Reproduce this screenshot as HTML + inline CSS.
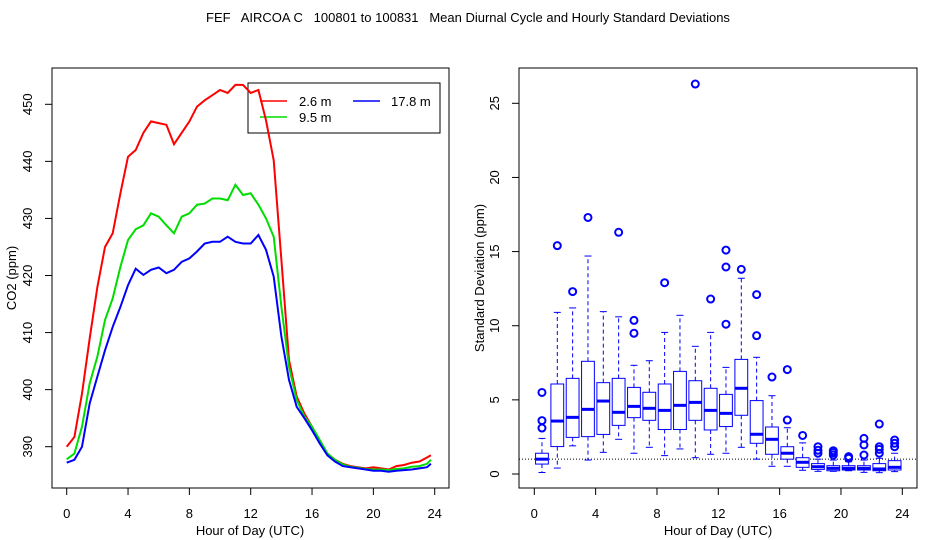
<!DOCTYPE html>
<html><head><meta charset="utf-8"><style>
html,body{margin:0;padding:0;background:#fff;}
svg{display:block;font-family:"Liberation Sans",sans-serif;}
</style></head><body>
<svg id="chart" width="936" height="540" viewBox="0 0 936 540" xmlns="http://www.w3.org/2000/svg">
<rect width="936" height="540" fill="#fff"/>
<text x="468" y="22" font-size="13" text-anchor="middle" xml:space="preserve" style="white-space:pre">FEF   AIRCOA C   100801 to 100831   Mean Diurnal Cycle and Hourly Standard Deviations</text>
<g id="left"></g>
<g id="right"></g>
</svg>
<script>
// ---- Left chart data ----
const hours = [0,0.5,1,1.5,2,2.5,3,3.5,4,4.5,5,5.5,6,6.5,7,7.5,8,8.5,9,9.5,10,10.5,11,11.5,12,12.5,13,13.5,14,14.5,15,15.5,16,16.5,17,17.5,18,18.5,19,19.5,20,20.5,21,21.5,22,22.5,23,23.5,23.75];
const co2_26 = [390,391.7,399.3,409,418,425,427.4,434.4,440.8,442,445,447,446.7,446.4,443,445,447,449.6,450.7,451.6,452.5,452,453.4,453.4,452,452.5,447.2,440.2,422.7,405.2,398.8,395.8,393.5,390.6,388.8,387.7,387,386.6,386.4,386.2,386.4,386.2,386,386.6,386.8,387.2,387.4,388.1,388.5];
const co2_95 = [387.8,388.8,393.5,401.1,405.8,412.2,416,421.5,426.2,428.1,428.8,430.9,430.3,428.8,427.4,430.3,430.9,432.4,432.6,433.5,433.5,433.2,435.9,434.1,434.4,432.4,430,426.8,414.5,404,398.2,395.3,393.5,391.2,388.8,387.7,386.9,386.5,386.3,386.1,386,386,385.9,386.1,386.2,386.5,386.6,387,387.7];
const co2_178 = [387.2,387.7,390,397.6,402.3,406.9,411,414.5,418.3,421.2,420.1,421,421.4,420.4,421,422.4,423,424.2,425.6,425.9,425.9,426.8,425.9,425.6,425.6,427.1,424.5,419.8,409.3,401.7,397,395,392.9,390.6,388.5,387.4,386.6,386.4,386.2,386,385.8,385.8,385.6,385.8,385.9,386,386.2,386.4,387];
const xTicks = [0,4,8,12,16,20,24];
const yTicksL = [390,400,410,420,430,440,450];
// ---- Right chart data (per hour box stats) ----
const bxLo  = [0.1,0.4,1.9,0.94,1.46,2.34,1.4,1.8,1.24,1.69,1.1,1.33,1.4,1.8,1.0,0.52,0.52,0.25,0.18,0.18,0.22,0.11,0.09,0.16];
const bxQ1  = [0.67,1.85,2.47,2.52,2.67,3.28,3.8,3.62,3.0,3.0,3.62,2.97,3.2,3.96,2.07,1.33,1.0,0.45,0.31,0.22,0.27,0.27,0.22,0.27];
const bxMed = [1.0,3.57,3.82,4.36,4.92,4.16,4.56,4.43,4.29,4.63,4.83,4.29,4.09,5.78,2.68,2.34,1.4,0.79,0.49,0.38,0.38,0.38,0.34,0.45];
const bxQ3  = [1.4,6.07,6.45,7.6,6.16,6.45,5.84,5.51,6.07,6.92,6.29,5.78,5.37,7.73,4.95,3.17,1.84,1.1,0.7,0.56,0.56,0.56,0.7,0.9];
const bxHi  = [2.4,10.9,11.2,14.7,10.95,10.6,7.33,7.64,9.55,10.7,8.61,9.55,7.19,13.2,7.87,5.28,3.12,2.1,1.0,0.94,0.83,0.94,1.06,1.4];
const bxOut = [[3.1,3.6,5.5],[15.4],[12.3],[17.3],[],[16.3],[9.49,10.36],[],[12.9],[],[26.3],[11.8],[10.1,13.96,15.1],[13.8],[9.33,12.1],[6.54],[3.64,7.04],[2.6],[1.4,1.6,1.84],[1.28,1.44,1.57],[1.06,1.17],[1.28,1.96,2.4],[1.4,1.66,1.84,3.37],[1.84,2.07,2.29]];
const yTicksR = [0,5,10,15,20,25];
const refLine = 1.0;

const NS="http://www.w3.org/2000/svg";
function mk(parent,tag,attrs,text){const e=document.createElementNS(NS,tag);for(const k in attrs)e.setAttribute(k,attrs[k]);if(text!==undefined)e.textContent=text;parent.appendChild(e);return e;}

// ---------- LEFT ----------
const L=document.getElementById('left');
const lx=h=>66.7+h*(434.7-66.7)/24;
const ly=v=>446.7-(v-390)*(446.7-104.3)/60;
let el=mk(L,'rect',{x:52,y:68,width:397,height:420,fill:'none',stroke:'#000','stroke-width':1});


xTicks.forEach(t=>{
  const x=lx(t);
  let tk=mk(L,'line',{x1:x,y1:488,x2:x,y2:495,stroke:'#000'});
  
  
  let tl=mk(L,'text',{x:x,y:518,'font-size':13,'text-anchor':'middle'},String(t));
  
  
});
yTicksL.forEach(t=>{
  const y=ly(t);
  let tk=mk(L,'line',{x1:45,y1:y,x2:52,y2:y,stroke:'#000'});
  
  
  let tl=mk(L,'text',{x:0,y:0,'font-size':13,'text-anchor':'middle',transform:`translate(32,${y}) rotate(-90)`},String(t));
  
  
});
el=mk(L,'text',{x:250,y:535,'font-size':13,'text-anchor':'middle'},'Hour of Day (UTC)');


el=mk(L,'text',{x:0,y:0,'font-size':13,'text-anchor':'middle',transform:'translate(16,278) rotate(-90)'},'CO2 (ppm)');


// legend (transparent)
const lg=mk(L,'g',{});


mk(lg,'rect',{x:248,y:83,width:192,height:50,fill:'none',stroke:'#000'});
[['2.6 m','#ff0000',260,101,299],['9.5 m','#00dd00',260,117,299],['17.8 m','#0000ff',353,101,391]].forEach(e=>{
  const g=mk(lg,'g',{});
  
  
  mk(g,'line',{x1:e[2],y1:e[3],x2:e[2]+27,y2:e[3],stroke:e[1],'stroke-width':1.5});
  mk(g,'text',{x:e[4],y:e[3]+5,'font-size':13},e[0]);
});
function series(arr,color,name){
  const d=arr.map((v,i)=>(i?'L':'M')+lx(hours[i]).toFixed(1)+','+ly(v).toFixed(1)).join(' ');
  const p=mk(L,'path',{d:d,fill:'none',stroke:color,'stroke-width':2});
  
  
}
series(co2_26,'#ff0000','series-2-6m');
series(co2_95,'#00dd00','series-9-5m');
series(co2_178,'#0000ff','series-17-8m');

// ---------- RIGHT ----------
const R=document.getElementById('right');
const rx=h=>534.3+h*(902.3-534.3)/24;
const ry=v=>474-v*(474-103.3)/25;
el=mk(R,'rect',{x:519,y:68,width:398,height:420,fill:'none',stroke:'#000'});


xTicks.forEach(t=>{
  const x=rx(t);
  let tk=mk(R,'line',{x1:x,y1:488,x2:x,y2:495,stroke:'#000'});
  
  
  let tl=mk(R,'text',{x:x,y:518,'font-size':13,'text-anchor':'middle'},String(t));
  
  
});
yTicksR.forEach(t=>{
  const y=ry(t);
  let tk=mk(R,'line',{x1:512,y1:y,x2:519,y2:y,stroke:'#000'});
  
  
  let tl=mk(R,'text',{x:0,y:0,'font-size':13,'text-anchor':'middle',transform:`translate(499,${y}) rotate(-90)`},String(t));
  
  
});
el=mk(R,'text',{x:718,y:535,'font-size':13,'text-anchor':'middle'},'Hour of Day (UTC)');


el=mk(R,'text',{x:0,y:0,'font-size':13,'text-anchor':'middle',transform:'translate(484,278) rotate(-90)'},'Standard Deviation (ppm)');


el=mk(R,'line',{x1:519,y1:ry(refLine),x2:917,y2:ry(refLine),stroke:'#000','stroke-dasharray':'1,2'});


const bw=6.4;
bxMed.forEach((m,i)=>{
  const cx=rx(i+0.5);
  const g=mk(R,'g',{stroke:'#0000ff',fill:'none'});
  
  
  mk(g,'line',{x1:cx,y1:ry(bxQ3[i]),x2:cx,y2:ry(bxHi[i]),'stroke-dasharray':'4,3'});
  mk(g,'line',{x1:cx,y1:ry(bxQ1[i]),x2:cx,y2:ry(bxLo[i]),'stroke-dasharray':'4,3'});
  mk(g,'line',{x1:cx-3.5,y1:ry(bxHi[i]),x2:cx+3.5,y2:ry(bxHi[i])});
  mk(g,'line',{x1:cx-3.5,y1:ry(bxLo[i]),x2:cx+3.5,y2:ry(bxLo[i])});
  mk(g,'rect',{x:cx-bw,y:ry(bxQ3[i]),width:2*bw,height:ry(bxQ1[i])-ry(bxQ3[i]),fill:'#fff'});
  mk(g,'line',{x1:cx-bw,y1:ry(m),x2:cx+bw,y2:ry(m),'stroke-width':3});
  bxOut[i].forEach(o=>{
    const c=mk(g,'circle',{cx:cx,cy:ry(o),r:3.5,'stroke-width':2});
    
    
  });
});
</script>
</body></html>
